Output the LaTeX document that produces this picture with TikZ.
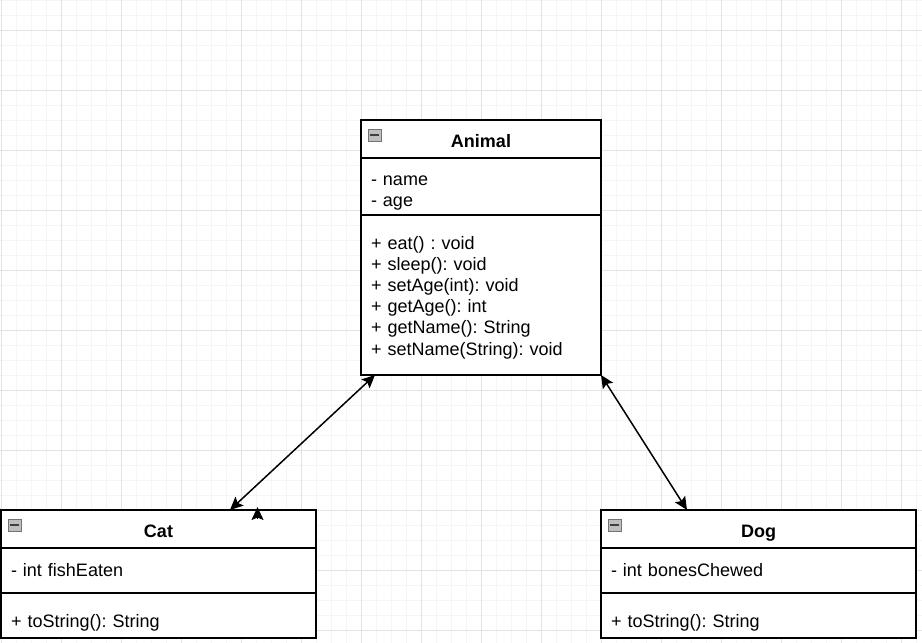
\documentclass[tikz,border=0pt]{standalone}
\usepackage{fontspec}
\setmainfont{Liberation Sans}
\usetikzlibrary{arrows.meta,positioning}
\frenchspacing

\begin{document}
\begin{tikzpicture}[x=1pt,y=-1pt,
  every node/.style={font=\fontsize{18}{21.2}\selectfont, outer sep=0pt},
  minorgrid/.style={draw=black!4, line width=1},
  majorgrid/.style={draw=black!11, line width=1},
  title/.style={draw, line width=1.7, fill=white, inner sep=0pt, text height=27pt, text depth=11pt,
    font=\fontsize{18}{21.2}\selectfont\bfseries},
  members/.style={draw, line width=1.7, fill=white, align=left, inner xsep=10pt, inner ysep=0pt},
  icon/.style={draw=black!55, fill=black!25, line width=1},
  classic/.tip={Stealth[length=13pt,width=12pt,inset=2.5pt]},
  assoc/.style={line width=1.5, classic-classic}]

  \useasboundingbox (0,0) rectangle (922,643);
  \fill[white] (0,0) rectangle (922,643);

  % background grid
  \foreach \x in {1,16,...,916}{\draw[minorgrid] (\x,0) -- (\x,643);}
  \foreach \y in {0,15,...,643}{\draw[minorgrid] (0,\y) -- (922,\y);}
  \foreach \x in {1,61,...,916}{\draw[majorgrid] (\x,0) -- (\x,643);}
  \foreach \y in {30,90,...,643}{\draw[majorgrid] (0,\y) -- (922,\y);}

  % Animal
  \node[title, minimum width=240pt] (animal) at (481,139) {Animal};
  \node[members, text width=220pt, text height=27.5pt, text depth=29.5pt, below=0pt of animal] (animalattr)
    {- name\\- age};
  \node[members, text width=220pt, text height=34pt, text depth=126pt, below=0pt of animalattr] (animalops)
    {+ eat() : void\\+ sleep(): void\\+ setAge(int): void\\+ getAge(): int\\+ getName(): String\\+ setName(String): void};

  % Cat
  \node[title, minimum width=315pt] (cat) at (158.5,529) {Cat};
  \node[members, text width=295pt, text height=28pt, text depth=17pt, below=0pt of cat] (catattr)
    {- int fishEaten};
  \node[members, text width=295pt, text height=34pt, text depth=11pt, below=0pt of catattr] (catops)
    {+ toString(): String};

  % Dog
  \node[title, minimum width=315pt] (dog) at (758.5,529) {Dog};
  \node[members, text width=295pt, text height=28pt, text depth=17pt, below=0pt of dog] (dogattr)
    {- int bonesChewed};
  \node[members, text width=295pt, text height=34pt, text depth=11pt, below=0pt of dogattr] (dogops)
    {+ toString(): String};

  \foreach \c in {animal,cat,dog}{
    \draw[icon] ([shift={(7,9)}]\c.north west) rectangle ++(13,12);
    \draw[line width=2, black!75] ([shift={(9,15)}]\c.north west) -- ++(9,0);
  }

  \draw[assoc] ([xshift=14pt]animalops.south west) -- ([xshift=71.5pt]cat.north);
  \draw[assoc] (animalops.south east) -- ([xshift=-71.5pt]dog.north);
  \draw[line width=1.5, -classic] ([xshift=99pt,yshift=-9pt]cat.north) -- ([xshift=99pt,yshift=3pt]cat.north);

\end{tikzpicture}
\end{document}
